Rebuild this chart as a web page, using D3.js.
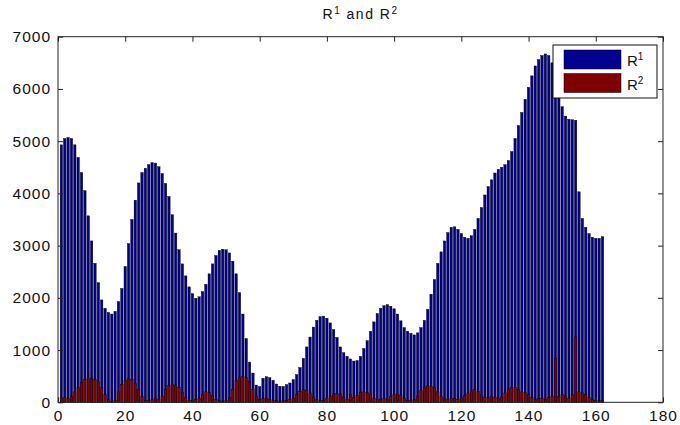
<!DOCTYPE html>
<html>
<head>
<meta charset="utf-8">
<script src="https://cdn.jsdelivr.net/npm/d3@7/dist/d3.min.js"></script>
<style>
  html, body { margin: 0; padding: 0; background: #fff; }
  svg { display: block; }
  text { font-family: "Liberation Sans", Arial, Helvetica, sans-serif; fill: #111; }
</style>
</head>
<body>
<svg id="chart" width="680" height="425"></svg>
<script>
// Sample index 1..162 for both series
const r1Values = [
  4930, 5050, 5070, 5050, 4930, 4690, 4400, 4050, 3570, 3090,
  2660, 2290, 1960, 1800, 1720, 1690, 1740, 1930, 2180, 2600,
  3040, 3500, 3870, 4200, 4400, 4480, 4550, 4590, 4580, 4510,
  4380, 4190, 3940, 3590, 3240, 2920, 2650, 2420, 2210, 2080,
  1990, 2020, 2120, 2260, 2460, 2650, 2810, 2910, 2930, 2920,
  2860, 2700, 2460, 2100, 1690, 1220, 770, 560, 330, 300,
  460, 490, 470, 420, 350, 305, 305, 340, 370, 435,
  530, 665, 840, 1060, 1250, 1440, 1570, 1640, 1650, 1610,
  1520, 1390, 1240, 1060, 950, 880, 830, 790, 800, 880,
  1030, 1180, 1360, 1540, 1700, 1800, 1850, 1870, 1840, 1790,
  1690, 1560, 1430, 1360, 1320, 1290, 1330, 1430, 1570, 1780,
  2070, 2350, 2660, 2880, 3090, 3250, 3350, 3360, 3310, 3230,
  3160, 3140, 3190, 3310, 3520, 3730, 3970, 4130, 4260, 4390,
  4460, 4500, 4550, 4630, 4800, 5050, 5300, 5550, 5800, 6030,
  6250, 6440, 6560, 6640, 6670, 6640, 6500, 6240, 5920, 5660,
  5480, 5420, 5410, 5400, 4030, 3520, 3350, 3230, 3160, 3140,
  3140, 3170
];
const r2Values = [
  80, 90, 70, 110, 200, 290, 380, 440, 465, 460,
  440, 390, 280, 150, 50, 20, 40, 200, 340, 420,
  455, 440, 360, 250, 110, 40, 30, 50, 80, 60,
  120, 250, 320, 345, 330, 280, 190, 90, 40, 30,
  50, 80, 150, 200, 190, 130, 60, 30, 20, 40,
  90, 250, 420, 480, 500, 480, 400, 250, 120, 50,
  70, 80, 60, 40, 30, 20, 30, 40, 50, 80,
  150, 210, 240, 230, 180, 100, 50, 30, 40, 70,
  120, 160, 170, 150, 100, 60, 150, 90, 130, 190,
  200, 190, 160, 80, 60, 60, 70, 60, 110, 150,
  160, 140, 80, 40, 40, 50, 120, 220, 290, 320,
  310, 280, 200, 110, 70, 60, 80, 70, 60, 90,
  130, 180, 230, 240, 210, 140, 100, 90, 110, 100,
  80, 100, 180, 260, 290, 280, 240, 200, 190, 150,
  90, 60, 70, 80, 60, 90, 120, 840, 110, 150,
  120, 80, 150, 1250, 200, 180, 150, 90, 60, 40,
  30, 30
];
const xTicks = [0, 20, 40, 60, 80, 100, 120, 140, 160, 180];
const yTicks = [0, 1000, 2000, 3000, 4000, 5000, 6000, 7000];
const seriesNames = ["1", "2"];
const seriesColors = ["#00008f", "#800000"];

const svg = d3.select("#chart");
const plotL = 58, plotR = 663, plotT = 36.7, plotB = 402.3;

const x = d3.scaleLinear().domain([0, 180]).range([plotL, plotR]);
const y = d3.scaleLinear().domain([0, 7000]).range([plotB, plotT]);

const barHalf = 0.36;
const series = [r1Values, r2Values];

// bars: R1 first, R2 drawn over it at the same positions
series.forEach((vals, s) => {
  svg.append("g")
    .selectAll("rect")
    .data(vals)
    .join("rect")
    .attr("x", (d, i) => x(i + 1 - barHalf))
    .attr("width", (d, i) => x(i + 1 + barHalf) - x(i + 1 - barHalf))
    .attr("y", d => y(d))
    .attr("height", d => y(0) - y(d))
    .attr("fill", seriesColors[s])
    .attr("stroke", "#000")
    .attr("stroke-width", 0.4);
});

// axes box with inward ticks on all four sides
const tickLen = 5;
const axisG = svg.append("g");
axisG.append("rect")
  .attr("x", plotL).attr("y", plotT)
  .attr("width", plotR - plotL).attr("height", plotB - plotT)
  .attr("fill", "none").attr("stroke", "#222").attr("stroke-width", 1);

const bottomAxis = d3.axisBottom(x).tickValues(xTicks).tickSize(-tickLen).tickPadding(8);
const topAxis = d3.axisTop(x).tickValues(xTicks).tickSize(-tickLen).tickFormat("");
const leftAxis = d3.axisLeft(y).tickValues(yTicks).tickSize(-tickLen).tickPadding(7).tickFormat(d3.format("d"));
const rightAxis = d3.axisRight(y).tickValues(yTicks).tickSize(-tickLen).tickFormat("");

function styleAxis(g) {
  g.select(".domain").remove();
  g.selectAll(".tick line").attr("stroke", "#222");
  g.selectAll(".tick text").attr("font-size", 15.5).attr("fill", "#111")
    .attr("letter-spacing", 1)
    .attr("font-family", "'Liberation Sans', Arial, sans-serif");
}
axisG.append("g").attr("transform", `translate(0,${plotB})`).call(bottomAxis).call(styleAxis);
axisG.append("g").attr("transform", `translate(0,${plotT})`).call(topAxis).call(styleAxis);
axisG.append("g").attr("transform", `translate(${plotL},0)`).call(leftAxis).call(styleAxis);
axisG.append("g").attr("transform", `translate(${plotR},0)`).call(rightAxis).call(styleAxis);

// title
const title = svg.append("text")
  .attr("x", (plotL + plotR) / 2).attr("y", 19)
  .attr("text-anchor", "middle").attr("font-size", 14).attr("letter-spacing", 1.5);
title.append("tspan").text("R");
title.append("tspan").attr("dy", -5).attr("font-size", 10).text("1");
title.append("tspan").attr("dy", 5).text(" and R");
title.append("tspan").attr("dy", -5).attr("font-size", 10).text("2");

// legend
const lg = svg.append("g").attr("transform", "translate(553,45)");
lg.append("rect").attr("width", 104).attr("height", 53)
  .attr("fill", "#fff").attr("stroke", "#111").attr("stroke-width", 1);
seriesNames.forEach((n, i) => {
  const row = lg.append("g").attr("transform", `translate(0,${5 + i * 23.5})`);
  row.append("rect").attr("x", 11).attr("y", 0).attr("width", 57).attr("height", 19)
    .attr("fill", seriesColors[i]).attr("stroke", "#000").attr("stroke-width", 0.5);
  const t = row.append("text").attr("x", 74).attr("y", 16).attr("font-size", 15);
  t.append("tspan").text("R");
  t.append("tspan").attr("dy", -6).attr("font-size", 10).text(n);
});
</script>
</body>
</html>
